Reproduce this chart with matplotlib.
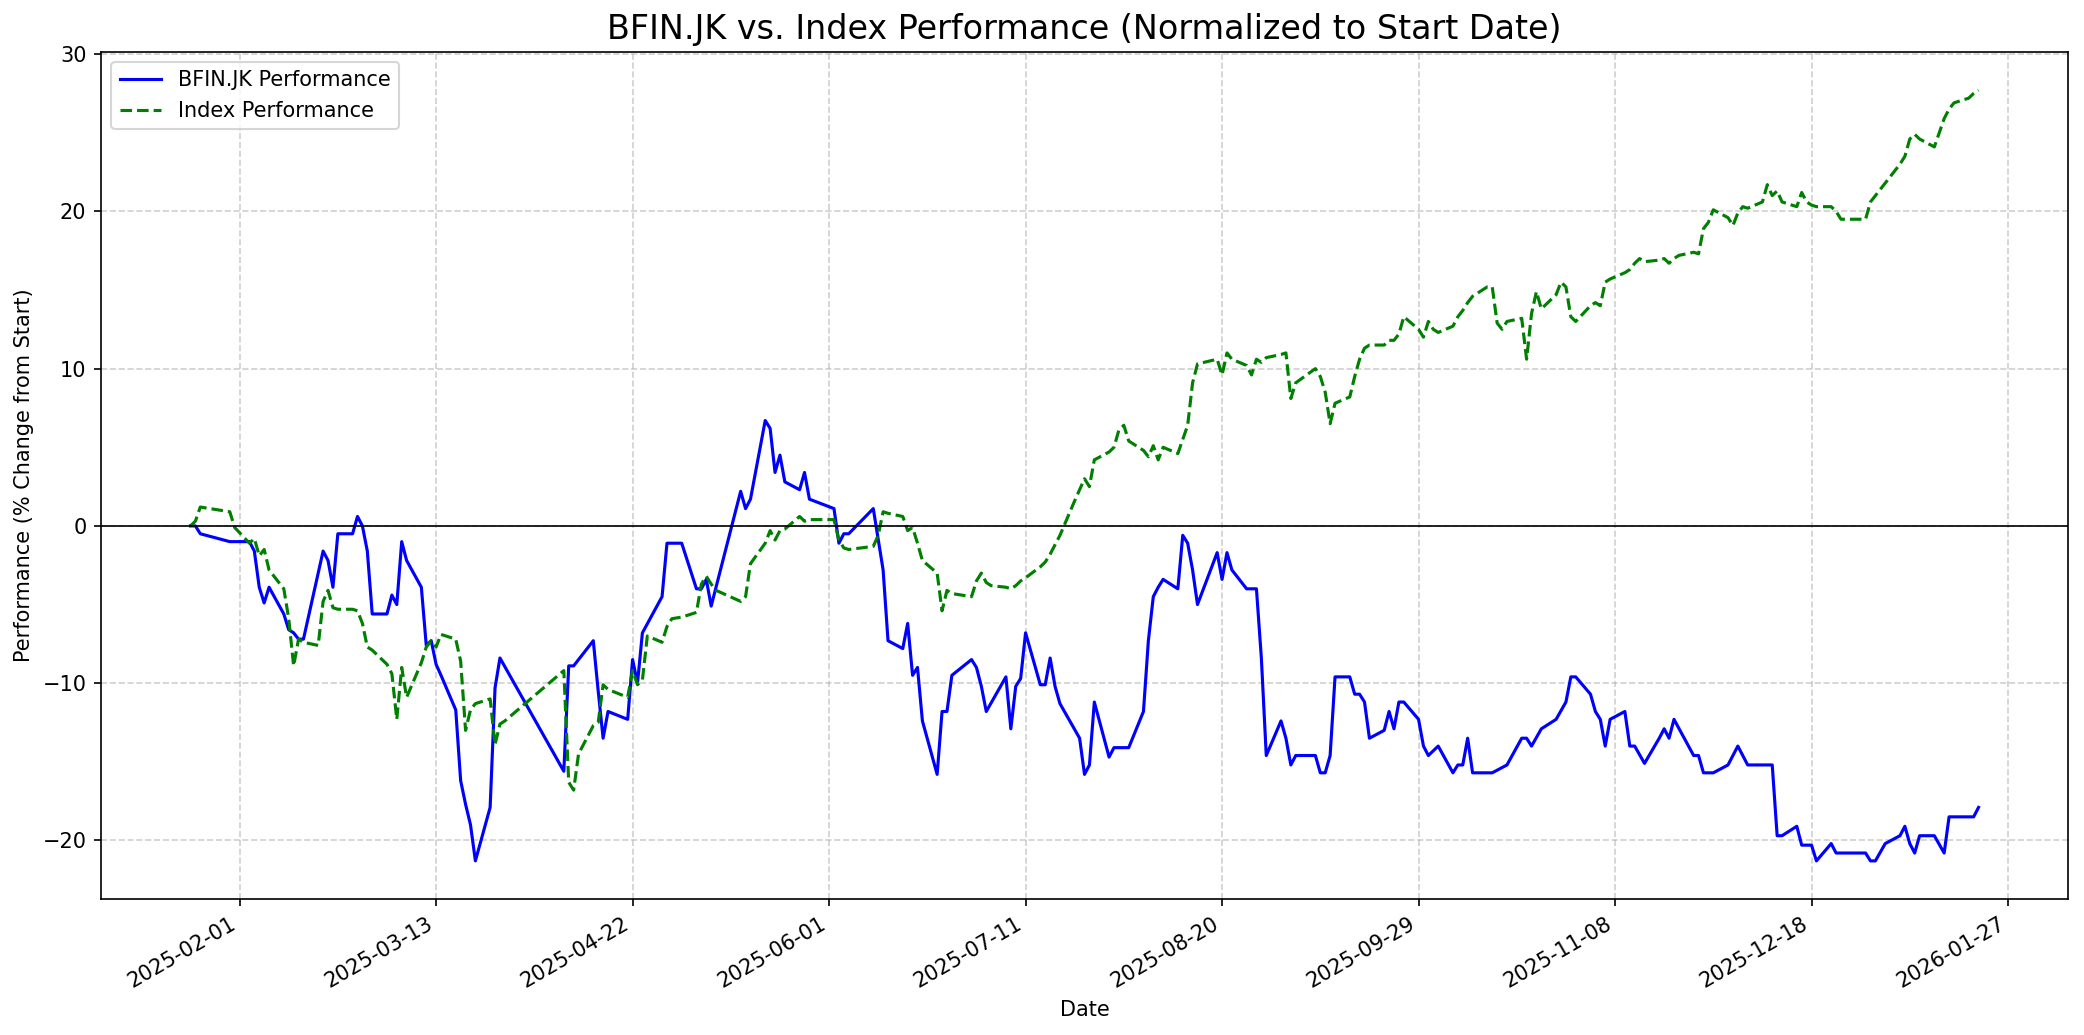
import numpy as np
import pandas as pd
import matplotlib
matplotlib.use('Agg')
import matplotlib.pyplot as plt
import matplotlib.dates as mdates

# BFIN.JK, % change from start
stock_dates = [
    '2025-01-22', '2025-01-23', '2025-01-24', '2025-01-30', '2025-01-31', '2025-02-03',
    '2025-02-04', '2025-02-05', '2025-02-06', '2025-02-07', '2025-02-10', '2025-02-11',
    '2025-02-12', '2025-02-13', '2025-02-14', '2025-02-18', '2025-02-19', '2025-02-20',
    '2025-02-21', '2025-02-24', '2025-02-25', '2025-02-26', '2025-02-27', '2025-02-28',
    '2025-03-03', '2025-03-04', '2025-03-05', '2025-03-06', '2025-03-07', '2025-03-10',
    '2025-03-11', '2025-03-12', '2025-03-13', '2025-03-14', '2025-03-17', '2025-03-18',
    '2025-03-19', '2025-03-20', '2025-03-21', '2025-03-24', '2025-03-25', '2025-03-26',
    '2025-04-08', '2025-04-09', '2025-04-10', '2025-04-14', '2025-04-15', '2025-04-16',
    '2025-04-17', '2025-04-21', '2025-04-22', '2025-04-23', '2025-04-24', '2025-04-28',
    '2025-04-29', '2025-05-02', '2025-05-05', '2025-05-06', '2025-05-07', '2025-05-08',
    '2025-05-14', '2025-05-15', '2025-05-16', '2025-05-19', '2025-05-20', '2025-05-21',
    '2025-05-22', '2025-05-23', '2025-05-26', '2025-05-27', '2025-05-28', '2025-06-02',
    '2025-06-03', '2025-06-04', '2025-06-05', '2025-06-10', '2025-06-12', '2025-06-13',
    '2025-06-16', '2025-06-17', '2025-06-18', '2025-06-19', '2025-06-20', '2025-06-23',
    '2025-06-24', '2025-06-25', '2025-06-26', '2025-06-30', '2025-07-01', '2025-07-02',
    '2025-07-03', '2025-07-07', '2025-07-08', '2025-07-09', '2025-07-10', '2025-07-11',
    '2025-07-14', '2025-07-15', '2025-07-16', '2025-07-17', '2025-07-18', '2025-07-22',
    '2025-07-23', '2025-07-24', '2025-07-25', '2025-07-28', '2025-07-29', '2025-08-01',
    '2025-08-04', '2025-08-05', '2025-08-06', '2025-08-07', '2025-08-08', '2025-08-11',
    '2025-08-12', '2025-08-13', '2025-08-14', '2025-08-15', '2025-08-19', '2025-08-20',
    '2025-08-21', '2025-08-22', '2025-08-25', '2025-08-27', '2025-08-28', '2025-08-29',
    '2025-09-01', '2025-09-02', '2025-09-03', '2025-09-04', '2025-09-08', '2025-09-09',
    '2025-09-10', '2025-09-11', '2025-09-12', '2025-09-15', '2025-09-16', '2025-09-17',
    '2025-09-18', '2025-09-19', '2025-09-22', '2025-09-23', '2025-09-24', '2025-09-25',
    '2025-09-26', '2025-09-29', '2025-09-30', '2025-10-01', '2025-10-03', '2025-10-06',
    '2025-10-07', '2025-10-08', '2025-10-09', '2025-10-10', '2025-10-14', '2025-10-17',
    '2025-10-20', '2025-10-21', '2025-10-22', '2025-10-24', '2025-10-27', '2025-10-29',
    '2025-10-30', '2025-10-31', '2025-11-03', '2025-11-04', '2025-11-05', '2025-11-06',
    '2025-11-07', '2025-11-10', '2025-11-11', '2025-11-12', '2025-11-14', '2025-11-17',
    '2025-11-18', '2025-11-19', '2025-11-20', '2025-11-24', '2025-11-25', '2025-11-26',
    '2025-11-28', '2025-12-01', '2025-12-03', '2025-12-05', '2025-12-10', '2025-12-11',
    '2025-12-12', '2025-12-15', '2025-12-16', '2025-12-18', '2025-12-19', '2025-12-22',
    '2025-12-23', '2025-12-29', '2025-12-30', '2025-12-31', '2026-01-02', '2026-01-05',
    '2026-01-06', '2026-01-07', '2026-01-08', '2026-01-09', '2026-01-12', '2026-01-14',
    '2026-01-15', '2026-01-19', '2026-01-20', '2026-01-21',
]
stock_perf = [
    0.0, 0.0, -0.5, -1.0, -1.0, -1.0,
    -1.6, -3.9, -4.9, -3.9, -5.6, -6.6,
    -6.8, -7.2, -7.2, -1.6, -2.2, -3.9,
    -0.5, -0.5, 0.6, 0.0, -1.6, -5.6,
    -5.6, -4.4, -5.0, -1.0, -2.2, -3.9,
    -7.6, -7.3, -8.8, -9.5, -11.7, -16.2,
    -17.7, -19.0, -21.3, -17.9, -10.3, -8.4,
    -15.6, -8.9, -8.9, -7.3, -10.5, -13.5,
    -11.8, -12.3, -8.5, -10.0, -6.8, -4.5,
    -1.1, -1.1, -4.0, -4.0, -3.4, -5.1,
    2.2, 1.1, 1.7, 6.7, 6.2, 3.4,
    4.5, 2.8, 2.3, 3.4, 1.7, 1.1,
    -1.1, -0.5, -0.5, 1.1, -2.8, -7.3,
    -7.8, -6.2, -9.5, -9.0, -12.4, -15.8,
    -11.8, -11.8, -9.5, -8.5, -9.0, -10.2,
    -11.8, -9.6, -12.9, -10.2, -9.7, -6.8,
    -10.1, -10.1, -8.4, -10.2, -11.3, -13.5,
    -15.8, -15.2, -11.2, -14.7, -14.1, -14.1,
    -11.8, -7.3, -4.5, -3.9, -3.4, -4.0,
    -0.6, -1.1, -2.8, -5.0, -1.7, -3.4,
    -1.7, -2.8, -4.0, -4.0, -8.4, -14.6,
    -12.4, -13.5, -15.2, -14.6, -14.6, -15.7,
    -15.7, -14.6, -9.6, -9.6, -10.7, -10.7,
    -11.2, -13.5, -13.0, -11.8, -12.9, -11.2,
    -11.2, -12.3, -14.0, -14.6, -14.0, -15.7,
    -15.2, -15.2, -13.5, -15.7, -15.7, -15.2,
    -13.5, -13.5, -14.0, -12.9, -12.3, -11.2,
    -9.6, -9.6, -10.7, -11.8, -12.3, -14.0,
    -12.3, -11.8, -14.0, -14.0, -15.1, -13.5,
    -12.9, -13.5, -12.3, -14.6, -14.6, -15.7,
    -15.7, -15.2, -14.0, -15.2, -15.2, -19.7,
    -19.7, -19.1, -20.3, -20.3, -21.3, -20.2,
    -20.8, -20.8, -21.3, -21.3, -20.2, -19.7,
    -19.1, -20.2, -20.8, -19.7, -19.7, -20.8,
    -18.5, -18.5, -18.5, -17.9,
]

# Index, % change from start
index_dates = [
    '2025-01-22', '2025-01-23', '2025-01-24', '2025-01-30', '2025-01-31', '2025-02-03',
    '2025-02-04', '2025-02-05', '2025-02-06', '2025-02-07', '2025-02-10', '2025-02-11',
    '2025-02-12', '2025-02-13', '2025-02-14', '2025-02-17', '2025-02-18', '2025-02-19',
    '2025-02-20', '2025-02-21', '2025-02-24', '2025-02-25', '2025-02-26', '2025-02-27',
    '2025-02-28', '2025-03-03', '2025-03-04', '2025-03-05', '2025-03-06', '2025-03-07',
    '2025-03-10', '2025-03-11', '2025-03-12', '2025-03-13', '2025-03-14', '2025-03-17',
    '2025-03-18', '2025-03-19', '2025-03-20', '2025-03-21', '2025-03-24', '2025-03-25',
    '2025-03-26', '2025-03-27', '2025-04-08', '2025-04-09', '2025-04-10', '2025-04-11',
    '2025-04-14', '2025-04-15', '2025-04-16', '2025-04-17', '2025-04-21', '2025-04-22',
    '2025-04-23', '2025-04-24', '2025-04-25', '2025-04-28', '2025-04-29', '2025-04-30',
    '2025-05-02', '2025-05-05', '2025-05-06', '2025-05-07', '2025-05-08', '2025-05-09',
    '2025-05-14', '2025-05-15', '2025-05-16', '2025-05-19', '2025-05-20', '2025-05-21',
    '2025-05-22', '2025-05-23', '2025-05-26', '2025-05-27', '2025-05-28', '2025-06-02',
    '2025-06-03', '2025-06-04', '2025-06-05', '2025-06-10', '2025-06-11', '2025-06-12',
    '2025-06-13', '2025-06-16', '2025-06-17', '2025-06-18', '2025-06-19', '2025-06-20',
    '2025-06-23', '2025-06-24', '2025-06-25', '2025-06-26', '2025-06-30', '2025-07-01',
    '2025-07-02', '2025-07-03', '2025-07-04', '2025-07-07', '2025-07-08', '2025-07-09',
    '2025-07-10', '2025-07-11', '2025-07-14', '2025-07-15', '2025-07-16', '2025-07-17',
    '2025-07-18', '2025-07-21', '2025-07-22', '2025-07-23', '2025-07-24', '2025-07-25',
    '2025-07-28', '2025-07-29', '2025-07-30', '2025-07-31', '2025-08-01', '2025-08-04',
    '2025-08-05', '2025-08-06', '2025-08-07', '2025-08-08', '2025-08-11', '2025-08-12',
    '2025-08-13', '2025-08-14', '2025-08-15', '2025-08-19', '2025-08-20', '2025-08-21',
    '2025-08-22', '2025-08-25', '2025-08-26', '2025-08-27', '2025-08-28', '2025-08-29',
    '2025-09-01', '2025-09-02', '2025-09-03', '2025-09-04', '2025-09-08', '2025-09-09',
    '2025-09-10', '2025-09-11', '2025-09-12', '2025-09-15', '2025-09-16', '2025-09-17',
    '2025-09-18', '2025-09-19', '2025-09-22', '2025-09-23', '2025-09-24', '2025-09-25',
    '2025-09-26', '2025-09-29', '2025-09-30', '2025-10-01', '2025-10-02', '2025-10-03',
    '2025-10-06', '2025-10-07', '2025-10-08', '2025-10-09', '2025-10-10', '2025-10-13',
    '2025-10-14', '2025-10-15', '2025-10-16', '2025-10-17', '2025-10-20', '2025-10-21',
    '2025-10-22', '2025-10-23', '2025-10-24', '2025-10-27', '2025-10-28', '2025-10-29',
    '2025-10-30', '2025-10-31', '2025-11-03', '2025-11-04', '2025-11-05', '2025-11-06',
    '2025-11-07', '2025-11-10', '2025-11-11', '2025-11-12', '2025-11-13', '2025-11-14',
    '2025-11-17', '2025-11-18', '2025-11-19', '2025-11-20', '2025-11-21', '2025-11-24',
    '2025-11-25', '2025-11-26', '2025-11-27', '2025-11-28', '2025-12-01', '2025-12-02',
    '2025-12-03', '2025-12-04', '2025-12-05', '2025-12-08', '2025-12-09', '2025-12-10',
    '2025-12-11', '2025-12-12', '2025-12-15', '2025-12-16', '2025-12-17', '2025-12-18',
    '2025-12-19', '2025-12-22', '2025-12-23', '2025-12-24', '2025-12-29', '2025-12-30',
    '2025-12-31', '2026-01-02', '2026-01-05', '2026-01-06', '2026-01-07', '2026-01-08',
    '2026-01-09', '2026-01-12', '2026-01-13', '2026-01-14', '2026-01-15', '2026-01-16',
    '2026-01-19', '2026-01-20', '2026-01-21',
]
index_perf = [
    0.0, 0.3, 1.2, 0.9, -0.1, -1.1,
    -0.8, -1.9, -1.5, -2.8, -4.0, -5.9,
    -8.9, -7.2, -7.4, -7.6, -4.8, -4.1,
    -5.2, -5.3, -5.3, -5.4, -6.2, -7.7,
    -7.9, -8.8, -9.4, -12.3, -9.0, -10.9,
    -8.7, -7.7, -7.3, -7.7, -6.9, -7.2,
    -8.6, -13.0, -11.7, -11.3, -11.0, -13.9,
    -12.6, -12.4, -9.2, -16.3, -16.8, -14.5,
    -12.7, -12.5, -10.1, -10.4, -10.9, -9.2,
    -10.1, -9.8, -7.0, -7.4, -6.4, -5.9,
    -5.8, -5.5, -3.7, -3.2, -3.7, -4.1,
    -4.8, -4.5, -2.4, -1.1, -0.3, -0.9,
    -0.3, -0.2, 0.6, 0.3, 0.4, 0.4,
    -0.9, -1.4, -1.5, -1.3, -0.6, 0.9,
    0.8, 0.6, -0.3, -0.1, -1.1, -2.2,
    -3.0, -5.4, -4.1, -4.3, -4.5, -3.5,
    -3.0, -3.6, -3.8, -3.9, -4.0, -3.8,
    -3.5, -3.3, -2.6, -2.3, -1.8, -1.2,
    -0.6, 1.6, 2.3, 3.0, 2.5, 4.2,
    4.7, 5.0, 6.1, 6.4, 5.4, 4.8,
    4.4, 5.1, 4.2, 5.0, 4.6, 5.5,
    6.4, 9.1, 10.3, 10.6, 9.6, 11.0,
    10.6, 10.2, 9.6, 10.6, 10.4, 10.7,
    10.9, 11.0, 8.1, 9.1, 10.0, 9.5,
    8.5, 6.5, 7.8, 8.2, 9.5, 10.6,
    11.3, 11.5, 11.5, 11.8, 11.8, 12.2,
    13.3, 12.5, 12.0, 13.0, 12.5, 12.3,
    12.7, 13.3, 13.7, 14.2, 14.6, 15.2,
    15.2, 12.9, 12.5, 13.0, 13.2, 10.6,
    13.5, 14.9, 13.8, 14.7, 15.5, 15.2,
    13.3, 13.0, 14.0, 14.2, 14.0, 15.5,
    15.7, 16.1, 16.3, 16.7, 17.0, 16.8,
    16.9, 17.0, 16.7, 17.0, 17.2, 17.4,
    17.3, 18.9, 19.3, 20.1, 19.6, 19.1,
    19.9, 20.3, 20.2, 20.6, 21.7, 21.0,
    21.3, 20.6, 20.3, 21.2, 20.6, 20.4,
    20.3, 20.3, 20.0, 19.5, 19.5, 20.6,
    21.0, 21.8, 23.0, 23.5, 24.6, 24.9,
    24.6, 24.1, 25.0, 25.9, 26.5, 26.9,
    27.2, 27.5, 27.7,
]

tick_dates = ['2025-02-01', '2025-03-13', '2025-04-22', '2025-06-01', '2025-07-11',
              '2025-08-20', '2025-09-29', '2025-11-08', '2025-12-18', '2026-01-27']

fig, ax = plt.subplots(figsize=(2084/150, 1035/150), dpi=150)

ax.plot(pd.to_datetime(stock_dates), stock_perf, color='blue', linestyle='-', label='BFIN.JK Performance')
ax.plot(pd.to_datetime(index_dates), index_perf, color='green', linestyle='--', label='Index Performance')
ax.axhline(0, color='black', linewidth=0.8)

ax.set_title('BFIN.JK vs. Index Performance (Normalized to Start Date)', fontsize=16)
ax.set_xlabel('Date')
ax.set_ylabel('Performance (% Change from Start)')
ax.set_xticks(pd.to_datetime(tick_dates))
ax.xaxis.set_major_formatter(mdates.DateFormatter('%Y-%m-%d'))
ax.grid(True, linestyle='--', alpha=0.6)
ax.legend(loc='upper left')
fig.autofmt_xdate()
fig.subplots_adjust(left=0.0485, right=0.9923, top=0.950, bottom=0.131)

plt.savefig('out.png', dpi=150)
